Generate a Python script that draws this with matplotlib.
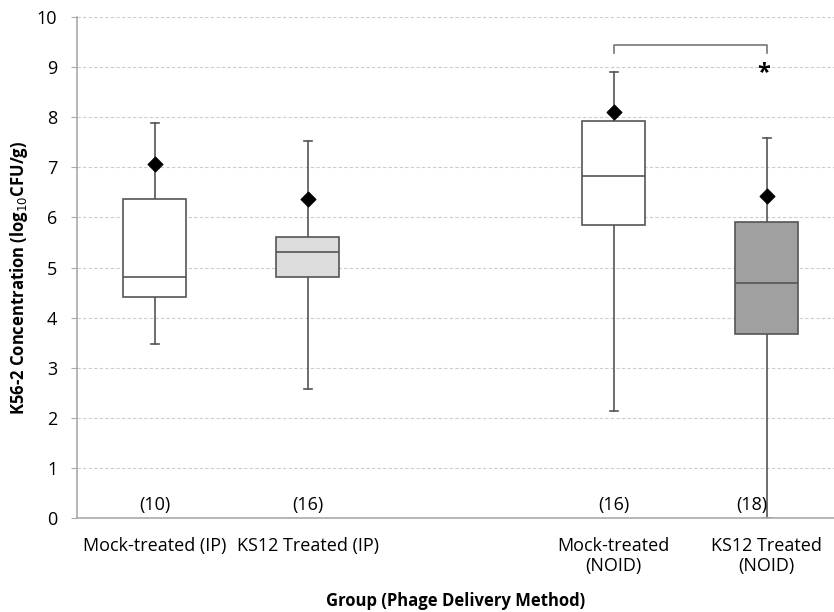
import matplotlib.pyplot as plt

labels = ['Mock-treated (IP)', 'KS12 Treated (IP)', 'Mock-treated\n(NOID)', 'KS12 Treated\n(NOID)']
positions = [0, 1, 3, 4]
counts = ['(10)', '(16)', '(16)', '(18)']
whislo = [3.48, 2.57, 2.13, 0.0]
q1 = [4.42, 4.82, 5.85, 3.68]
med = [4.82, 5.31, 6.82, 4.70]
q3 = [6.37, 5.61, 7.92, 5.90]
whishi = [7.88, 7.52, 8.90, 7.58]
means = [7.07, 6.37, 8.10, 6.43]
fills = ['white', '#dcdcdc', 'white', '#a0a0a0']

plt.rcParams['font.family'] = ['Open Sans', 'DejaVu Sans']

fig = plt.figure(figsize=(8.34, 6.12), dpi=100)
ax = fig.add_axes([0.092, 0.1536, 0.908, 0.8186])

stats = []
for i in range(len(labels)):
    stats.append({'whislo': whislo[i], 'q1': q1[i], 'med': med[i], 'q3': q3[i],
                  'whishi': whishi[i], 'label': labels[i]})

edge = '#555555'
bp = ax.bxp(stats, positions=positions, widths=0.41, patch_artist=True, showfliers=False,
            boxprops=dict(edgecolor=edge, linewidth=1.2, zorder=3),
            medianprops=dict(color=edge, linewidth=1.2, zorder=4),
            whiskerprops=dict(color=edge, linewidth=1.2),
            capprops=dict(color=edge, linewidth=1.2), capwidths=0.05)
for patch, c in zip(bp['boxes'], fills):
    patch.set_facecolor(c)

ax.scatter(positions, means, marker='D', s=55, color='black', zorder=5)

for p, c in zip(positions, counts):
    if c == '(18)':
        ax.text(p + 0.005, 0.25, c, ha='right', va='center', fontsize=13)
    else:
        ax.text(p, 0.25, c, ha='center', va='center', fontsize=13)

# significance bracket
ax.plot([3, 3, 4, 4], [9.28, 9.44, 9.44, 9.28], color='#777777', linewidth=1.2)
ax.text(3.98, 8.88, '*', ha='center', va='center', fontsize=17, fontweight='bold')

ax.set_xlim(-0.51, 4.44)
ax.set_ylim(0, 10)
ax.set_yticks(range(0, 11))
ax.tick_params(axis='y', labelsize=13, length=4, pad=10, color='#aaaaaa')
ax.tick_params(axis='x', labelsize=13, length=0, pad=14)
ax.set_xticks(positions)
ax.set_xticklabels(labels, linespacing=1.1)
ax.yaxis.grid(True, linestyle=(0, (3, 2)), color='#cccccc', linewidth=0.8)
ax.set_axisbelow(True)
for s in ['top', 'right']:
    ax.spines[s].set_visible(False)
for s in ['left', 'bottom']:
    ax.spines[s].set_color('#aaaaaa')
    ax.spines[s].set_linewidth(1.2)

ax.set_xlabel('Group (Phage Delivery Method)', fontsize=12, fontweight='bold', labelpad=12)
ax.set_ylabel('K56-2 Concentration (log$_{10}$CFU/g)', fontsize=12, fontweight='bold')
ax.yaxis.set_label_coords(-0.062, 0.48)

fig.savefig('out.png', dpi=100)
